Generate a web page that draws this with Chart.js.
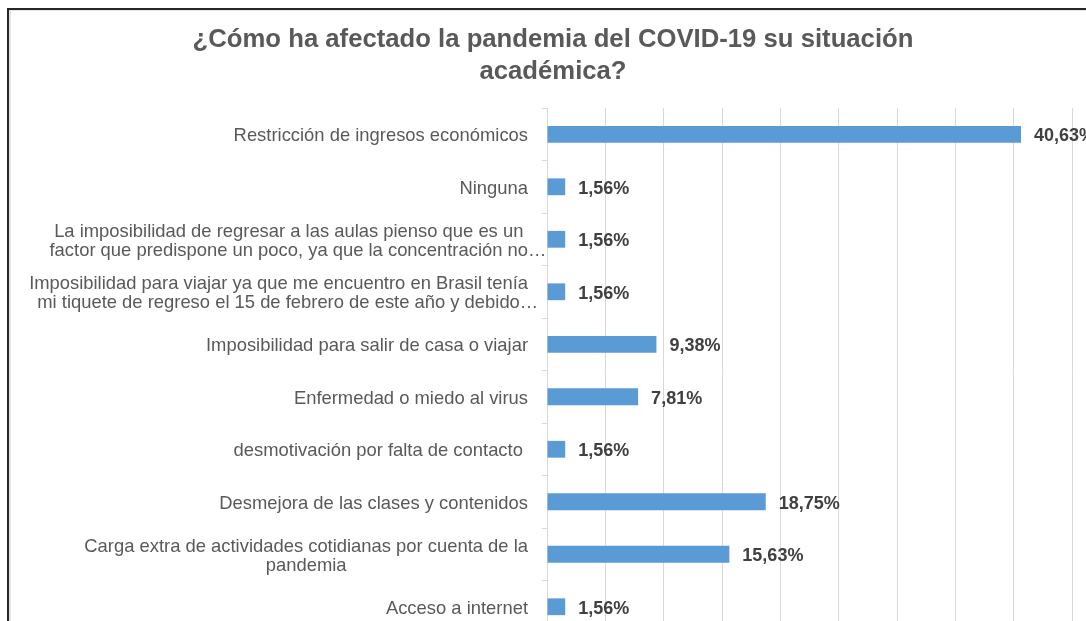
<!DOCTYPE html>
<html lang="es">
<head>
<meta charset="utf-8">
<title>¿Cómo ha afectado la pandemia del COVID-19 su situación académica?</title>
<script src="https://cdn.jsdelivr.net/npm/chart.js@4.4.1/dist/chart.umd.min.js"></script>
<style>
    html, body { margin: 0; padding: 0; width: 1086px; height: 621px; overflow: hidden; background: #fff; }
    #grafico { position: absolute; left: 0; top: 0; }
    #sombra { position: absolute; left: 9px; top: 10px; width: 1200px; height: 700px; border-left: 2px solid #e3e3e3; border-top: 1px solid #e6e6e6; pointer-events: none; }
    #marco { position: absolute; left: 7px; top: 8px; width: 1200px; height: 700px; border-left: 2px solid #262626; border-top: 2px solid #262626; pointer-events: none; }
</style>
</head>
<body>
<canvas id="grafico" width="1100" height="640"></canvas>
<div id="sombra"></div>
<div id="marco"></div>
<script>
// Datos del gráfico
const titulo = ['¿Cómo ha afectado la pandemia del COVID-19 su situación', 'académica?'];

const categorias = [
    'Restricción de ingresos económicos',
    'Ninguna',
    ['La imposibilidad de regresar a las aulas pienso que es un', 'factor que predispone un poco, ya que la concentración no…'],
    ['Imposibilidad para viajar ya que me encuentro en Brasil tenía', 'mi tiquete de regreso el 15 de febrero de este año y debido…'],
    'Imposibilidad para salir de casa o viajar',
    'Enfermedad o miedo al virus',
    'desmotivación por falta de contacto ',
    'Desmejora de las clases y contenidos',
    ['Carga extra de actividades cotidianas por cuenta de la', 'pandemia'],
    'Acceso a internet'
];

const porcentajes = [40.63, 1.56, 1.56, 1.56, 9.38, 7.81, 1.56, 18.75, 15.63, 1.56];

const escalaMax = 45;
const escalaPaso = 5;

const fuente = '"Liberation Sans", Arial, sans-serif';

function formatoPorcentaje(valor) {
    return valor.toFixed(2).replace('.', ',') + '%';
}

// Etiquetas de categoría: bloque pegado al eje, líneas centradas entre sí (como en Excel)
const etiquetasCategoria = {
    id: 'etiquetasCategoria',
    afterDraw(chart) {
        const ctx = chart.ctx;
        const escalaY = chart.scales.y;
        const derecha = escalaY.right - 19;
        const alto = 19;

        ctx.save();
        ctx.font = '18.4px ' + fuente;
        ctx.fillStyle = '#595959';
        ctx.textBaseline = 'middle';
        ctx.textAlign = 'left';

        categorias.forEach((cat, i) => {
            const lineas = Array.isArray(cat) ? cat : [cat];
            const anchoSin = l => ctx.measureText(l.replace(/…$/, '')).width;
            const ancho = Math.max(...lineas.map(anchoSin));
            const centroX = derecha - ancho / 2;
            const y0 = escalaY.getPixelForValue(i) + 2 - (lineas.length - 1) * alto / 2;

            lineas.forEach((linea, k) => {
                ctx.fillText(linea, centroX - anchoSin(linea) / 2, y0 + k * alto);
            });
        });
        ctx.restore();
    }
};

// Etiquetas de valor al final de cada barra
const etiquetasValor = {
    id: 'etiquetasValor',
    afterDatasetsDraw(chart) {
        const ctx = chart.ctx;
        const meta = chart.getDatasetMeta(0);

        ctx.save();
        ctx.font = 'bold 18px ' + fuente;
        ctx.fillStyle = '#404040';
        ctx.textAlign = 'left';
        ctx.textBaseline = 'middle';
        meta.data.forEach((barra, i) => {
            ctx.fillText(formatoPorcentaje(porcentajes[i]), barra.x + 13, barra.y + 2);
        });
        ctx.restore();
    }
};

const ctx = document.getElementById('grafico').getContext('2d');

new Chart(ctx, {
    type: 'bar',
    data: {
        labels: categorias,
        datasets: [{
            data: porcentajes,
            backgroundColor: '#5B9BD5',
            borderWidth: 0,
            categoryPercentage: 1,
            barPercentage: 0.32
        }]
    },
    options: {
        responsive: false,
        animation: false,
        indexAxis: 'y',
        layout: {
            padding: { left: 34, right: 28, top: 0, bottom: 7 }
        },
        plugins: {
            legend: { display: false },
            tooltip: { enabled: false },
            title: {
                display: true,
                text: titulo,
                color: '#595959',
                font: { family: fuente, size: 25.7, weight: 'bold', lineHeight: 1.25 },
                padding: { top: 24, bottom: 19.8 }
            }
        },
        scales: {
            x: {
                min: 0,
                max: escalaMax,
                ticks: { display: false, stepSize: escalaPaso },
                grid: { color: '#d9d9d9', drawTicks: false },
                border: { display: false },
                afterFit(escala) { escala.height = 0; }
            },
            y: {
                ticks: { display: false },
                grid: { offset: true, drawOnChartArea: false, drawTicks: true, tickLength: 5, color: '#d9d9d9' },
                border: { display: true, color: '#d9d9d9' },
                afterFit(escala) { escala.width = 513; }
            }
        }
    },
    plugins: [etiquetasCategoria, etiquetasValor]
});
</script>
</body>
</html>
